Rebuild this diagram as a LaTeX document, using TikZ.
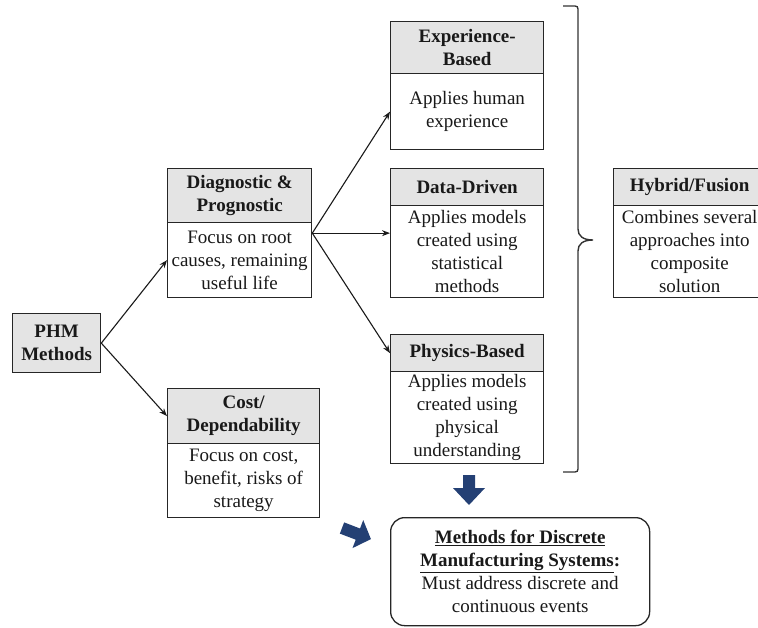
\documentclass[tikz,border=0pt]{standalone}
\usepackage{fontspec}
\setmainfont{Liberation Serif}
\usetikzlibrary{arrows.meta,calc}
\definecolor{hdrgray}{RGB}{228,228,228}
\definecolor{navy}{RGB}{36,64,116}
\begin{document}
\begin{tikzpicture}[x=1pt,y=-1pt,
  box/.style={draw=black!85, line width=1.3pt, anchor=north west, inner sep=0pt, align=center, font=\fontsize{19}{23}\selectfont, text=black!90},
  hdr/.style={box, fill=hdrgray, font=\fontsize{19}{23}\selectfont\bfseries},
  bdy/.style={box, fill=white},
  conn/.style={line width=1.1pt, black!90, -{Stealth[length=8pt,width=6pt]}},
  bracestyle/.style={line width=1.4pt, black!80},
  blockarrow/.style={fill=navy}
]
\useasboundingbox (0,0) rectangle (758,628);
\clip (0,0) rectangle (758,628);

% PHM
\node[hdr, minimum width=88pt, minimum height=59pt] (phm) at (12,313) {PHM\\Methods};

% Diagnostic & Prognostic
\node[hdr, minimum width=144pt, minimum height=54pt] (diagh) at (167,168) {Diagnostic \&\\Prognostic};
\node[bdy, minimum width=144pt, minimum height=75pt] (diagb) at (167,222) {Focus on root\\causes, remaining\\useful life};

% Cost / Dependability
\node[hdr, minimum width=152pt, minimum height=55pt] (costh) at (167,388) {Cost/\\Dependability};
\node[bdy, minimum width=152pt, minimum height=74pt] (costb) at (167,443) {Focus on cost,\\benefit, risks of\\strategy};

% Experience-Based
\node[hdr, minimum width=153pt, minimum height=52pt] (exph) at (390,21) {Experience-\\Based};
\node[bdy, minimum width=153pt, minimum height=76pt] (expb) at (390,73) {Applies human\\experience};

% Data-Driven
\node[hdr, minimum width=153pt, minimum height=37pt] (datah) at (390,168) {Data-Driven};
\node[bdy, minimum width=153pt, minimum height=92pt] (datab) at (390,205) {Applies models\\created using\\statistical\\methods};

% Physics-Based
\node[hdr, minimum width=153pt, minimum height=37pt] (physh) at (390,334) {Physics-Based};
\node[bdy, minimum width=153pt, minimum height=92pt] (physb) at (390,371) {Applies models\\created using\\physical\\understanding};

% Hybrid/Fusion
\node[hdr, minimum width=152pt, minimum height=37pt] (hybh) at (613,168) {Hybrid/Fusion};
\node[bdy, minimum width=152pt, minimum height=92pt] (hybb) at (613,205) {Combines several\\approaches into\\composite\\solution};

% Methods for Discrete Manufacturing Systems
\node[bdy, rounded corners=14pt, minimum width=259pt, minimum height=108pt] (disc) at (390,517)
  {\textbf{\underline{Methods for Discrete}}\\\textbf{\underline{Manufacturing Systems}:}\\Must address discrete and\\continuous events};

% connectors
\coordinate (diagE) at ($(diagh.north east)!0.5!(diagb.south east)$);
\coordinate (dataW) at ($(datah.north west)!0.5!(datab.south west)$);
\draw[conn] (phm.east) -- (diagb.west);
\draw[conn] (phm.east) -- (costh.west);
\draw[conn] (diagE) -- (expb.west);
\draw[conn] (diagE) -- (dataW);
\draw[conn] (diagE) -- (physh.west);

% brace
\draw[bracestyle] (563,6) -- (575,6) .. controls (577,6) and (578,7) .. (578,9) -- (578,229)
  .. controls (578,236) and (583,240) .. (593,240)
  .. controls (583,240) and (578,244) .. (578,251) -- (578,469)
  .. controls (578,471) and (577,472) .. (575,472) -- (563,472);

% block arrows
\fill[blockarrow, shift={(469,475)}, rotate=-90] (0,-6) -- (13,-6) -- (13,-16) -- (30,0) -- (13,16) -- (13,6) -- (0,6) -- cycle;
\fill[blockarrow, shift={(342,528)}, rotate=-21] (0,-6) -- (17,-6) -- (17,-15) -- (31,0) -- (17,15) -- (17,6) -- (0,6) -- cycle;
\end{tikzpicture}
\end{document}
